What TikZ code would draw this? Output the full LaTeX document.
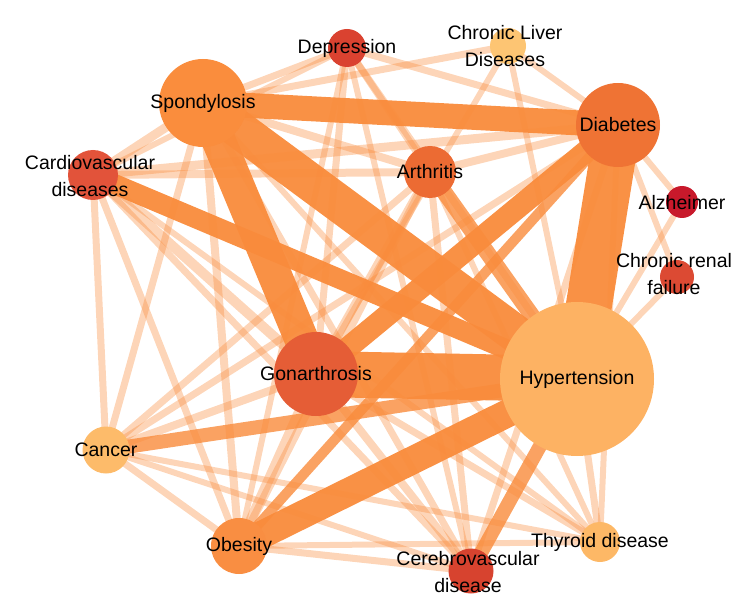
\documentclass[tikz,border=0pt]{standalone}
\usepackage{fontspec}
\setmainfont{Liberation Sans}
\pgfdeclarelayer{edges}
\pgfsetlayers{edges,main}
\definecolor{eor}{HTML}{F98B3B}
\definecolor{cS}{HTML}{FA8D3D}
\definecolor{cO}{HTML}{F98E42}
\definecolor{cH}{HTML}{FDB263}
\definecolor{cK}{HTML}{FDBB6A}
\definecolor{cT}{HTML}{FDB866}
\definecolor{cL}{HTML}{FDC573}
\definecolor{cB}{HTML}{EF7334}
\definecolor{cA}{HTML}{EC6B33}
\definecolor{cG}{HTML}{E55D36}
\definecolor{cC}{HTML}{E2533A}
\definecolor{cD}{HTML}{DA4230}
\definecolor{cV}{HTML}{D7432F}
\definecolor{cR}{HTML}{DC4A33}
\definecolor{cZ}{HTML}{C8192B}
\begin{document}
\begin{tikzpicture}[x=1pt,y=-1pt,
  dot/.style={circle, inner sep=0pt, draw=none},
  lab/.style={font=\fontsize{19.5}{27}\selectfont, text=black, align=center, inner sep=0pt},
  lt/.style={draw=eor, draw opacity=0.36, line width=#1},
  md/.style={draw=eor, draw opacity=0.8, line width=#1},
  hv/.style={draw=eor, draw opacity=0.95, line width=#1}]
\useasboundingbox (0,0) rectangle (744,604);
% nodes (circles)
\node[dot, fill=cH, minimum size=154pt] (H) at (577,379) {};
\node[dot, fill=cS, minimum size=88pt] (S) at (203,103) {};
\node[dot, fill=cB, minimum size=84pt] (B) at (618,125) {};
\node[dot, fill=cG, minimum size=84pt] (G) at (316,374) {};
\node[dot, fill=cD, minimum size=38pt] (D) at (347,48) {};
\node[dot, fill=cL, minimum size=36pt] (L) at (508,46) {};
\node[dot, fill=cC, minimum size=50pt] (C) at (93,175) {};
\node[dot, fill=cA, minimum size=52pt] (A) at (430,172) {};
\node[dot, fill=cZ, minimum size=32pt] (Z) at (682,202) {};
\node[dot, fill=cR, minimum size=34pt] (R) at (677,277) {};
\node[dot, fill=cK, minimum size=47pt] (K) at (106,450) {};
\node[dot, fill=cO, minimum size=56pt] (O) at (239,546) {};
\node[dot, fill=cV, minimum size=45pt] (V) at (471,571) {};
\node[dot, fill=cT, minimum size=40pt] (T) at (600,542) {};
% labels
\node[lab] (Hl) at (H) {Hypertension};
\node[lab] (Sl) at (S) {Spondylosis};
\node[lab] (Bl) at (B) {Diabetes};
\node[lab] (Gl) at (G) {Gonarthrosis};
\node[lab] (Dl) at (D) {Depression};
\node[lab] (Ll) at (505,46) {Chronic Liver\\Diseases};
\node[lab] (Cl) at (90,176) {Cardiovascular\\diseases};
\node[lab] (Al) at (430,172) {Arthritis};
\node[lab] (Zl) at (682,203) {Alzheimer};
\node[lab] (Rl) at (674,274) {Chronic renal\\failure};
\node[lab] (Kl) at (K) {Cancer};
\node[lab] (Ol) at (O) {Obesity};
\node[lab] (Vl) at (468,572) {Cerebrovascular\\disease};
\node[lab] (Tl) at (T) {Thyroid disease};
% edges
\begin{pgfonlayer}{edges}
\foreach \a/\b/\w in {S/C/9, S/D/7, S/L/7, S/A/8, S/K/7, S/O/8, S/V/7, S/T/6,
  D/C/6, D/A/7, D/B/7, D/G/7, D/H/7, D/V/6, D/O/6,
  L/B/6, L/H/6, L/G/6,
  C/B/9, C/A/8, C/K/7, C/O/7, C/G/10, C/V/7, C/T/6,
  A/B/8, A/G/9, A/K/7, A/O/8, A/V/7, A/T/6,
  B/Z/6, B/R/6, B/K/7, B/V/7, B/T/6,
  G/K/8, G/O/10, G/V/8, G/T/7,
  H/Z/6, H/R/6, H/T/7,
  K/O/7, K/T/6, K/V/6,
  O/V/7, O/T/6}
  \draw[lt=\w] (\a.center) -- (\b.center);
\foreach \a/\b/\w in {O/B/10, K/H/14, V/H/14, A/H/16}
  \draw[md=\w] (\a.center) -- (\b.center);
\foreach \a/\b/\w in {C/H/20, G/B/22, O/H/28, S/B/25, S/G/34, S/H/38, B/H/46, G/H/46}
  \draw[hv=\w] (\a.center) -- (\b.center);
\end{pgfonlayer}
\end{tikzpicture}
\end{document}
